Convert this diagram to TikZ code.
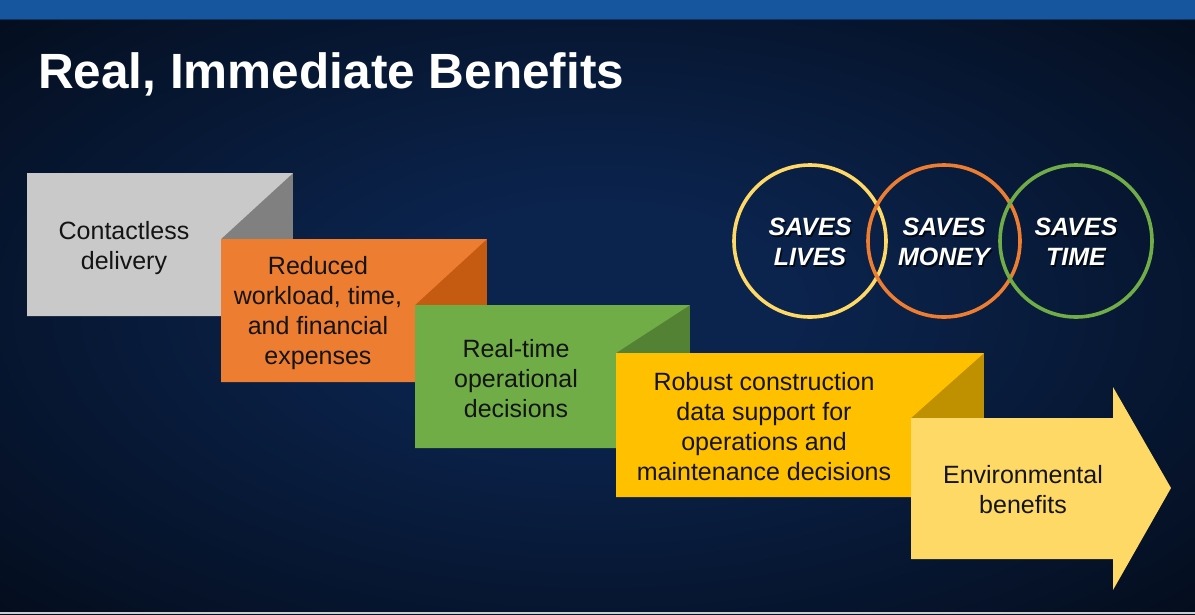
\documentclass[tikz,border=0pt]{standalone}
\usepackage{fontspec}
\setmainfont{Liberation Sans}
\definecolor{topbar}{RGB}{21,86,158}
\definecolor{bgA}{RGB}{11,36,78}
\definecolor{bgB}{RGB}{1,4,10}
\definecolor{grayL}{RGB}{201,201,201}
\definecolor{grayD}{RGB}{128,128,128}
\definecolor{orL}{RGB}{237,125,49}
\definecolor{orD}{RGB}{197,90,17}
\definecolor{grL}{RGB}{112,173,71}
\definecolor{grD}{RGB}{84,130,53}
\definecolor{yeL}{RGB}{255,192,0}
\definecolor{yeD}{RGB}{191,144,0}
\definecolor{lyL}{RGB}{255,217,102}
\definecolor{ringY}{RGB}{255,217,102}
\definecolor{ringO}{RGB}{237,125,49}
\definecolor{ringG}{RGB}{112,173,71}
\definecolor{txt}{RGB}{20,20,20}
\pgfdeclareradialshading{bgshade}{\pgfpoint{0bp}{0bp}}{color(0bp)=(bgA); color(8bp)=(bgA); color(46bp)=(bgB); color(80bp)=(bgB)}
\tikzset{
  boxtext/.style={text=txt, align=center, font=\fontsize{25}{30}\selectfont, inner sep=0pt},
  ringtext/.style={text=white, align=center, font=\bfseries\itshape\fontsize{25}{30}\selectfont, inner sep=0pt},
  ringshadow/.style={text=black, opacity=0.7, align=center, font=\bfseries\itshape\fontsize{25}{30}\selectfont, inner sep=0pt},
  ring/.style={line width=3.6pt},
}
\begin{document}
\begin{tikzpicture}[x=1pt,y=-1pt]
\useasboundingbox (0,0) rectangle (1195,614);
% background
\shade[shading=bgshade, shading angle=0] (0,0) rectangle (1195,614);
\fill[topbar] (0,0) rectangle (1195,19);
\fill[topbar!60!black] (0,19) rectangle (1195,20);
\fill[gray!40] (0,612) rectangle (1195,614);
% title
\node[anchor=base west, text=white, font=\bfseries\fontsize{49.5}{58}\selectfont, inner sep=0pt] (title) at (38,88) {Real, Immediate Benefits};
% box 1
\fill[grayD] (27,173) rectangle (293,316);
\fill[grayL] (27,173) -- (293,173) -- (221,239) -- (221,316) -- (27,316) -- cycle;
\node[boxtext] (b1) at (124,248) {Contactless\\delivery};
% box 2
\fill[orD] (221,239) rectangle (487,382);
\fill[orL] (221,239) -- (487,239) -- (415,305) -- (415,382) -- (221,382) -- cycle;
\node[boxtext] (b2) at (318,313) {Reduced\\workload, time,\\and financial\\expenses};
% box 3
\fill[grD] (415,305) rectangle (690,448);
\fill[grL] (415,305) -- (690,305) -- (616,353) -- (616,448) -- (415,448) -- cycle;
\node[boxtext] (b3) at (516,379) {Real-time\\operational\\decisions};
% box 4
\fill[yeD] (616,353) rectangle (984,497);
\fill[yeL] (616,353) -- (984,353) -- (911,418) -- (911,497) -- (616,497) -- cycle;
\node[boxtext] (b4) at (764,427) {Robust construction\\data support for\\operations and\\maintenance decisions};
% arrow 5
\fill[lyL] (911,418) -- (1113,418) -- (1113,387) -- (1171,488) -- (1113,590) -- (1113,559) -- (911,559) -- cycle;
\node[boxtext] (b5) at (1023,490) {Environmental\\benefits};
% rings
\draw[ring, ringY] (810,241) circle[radius=76];
\draw[ring, ringO] (944,241) circle[radius=76];
\draw[ring, ringG] (1076,241) circle[radius=76];
\node[ringshadow] (s1) at (811.5,243.5) {SAVES\\LIVES};
\node[ringtext] (r1) at (810,242) {SAVES\\LIVES};
\node[ringshadow] (s2) at (945.5,243.5) {SAVES\\MONEY};
\node[ringtext] (r2) at (944,242) {SAVES\\MONEY};
\node[ringshadow] (s3) at (1077.5,243.5) {SAVES\\TIME};
\node[ringtext] (r3) at (1076,242) {SAVES\\TIME};
\end{tikzpicture}
\end{document}
